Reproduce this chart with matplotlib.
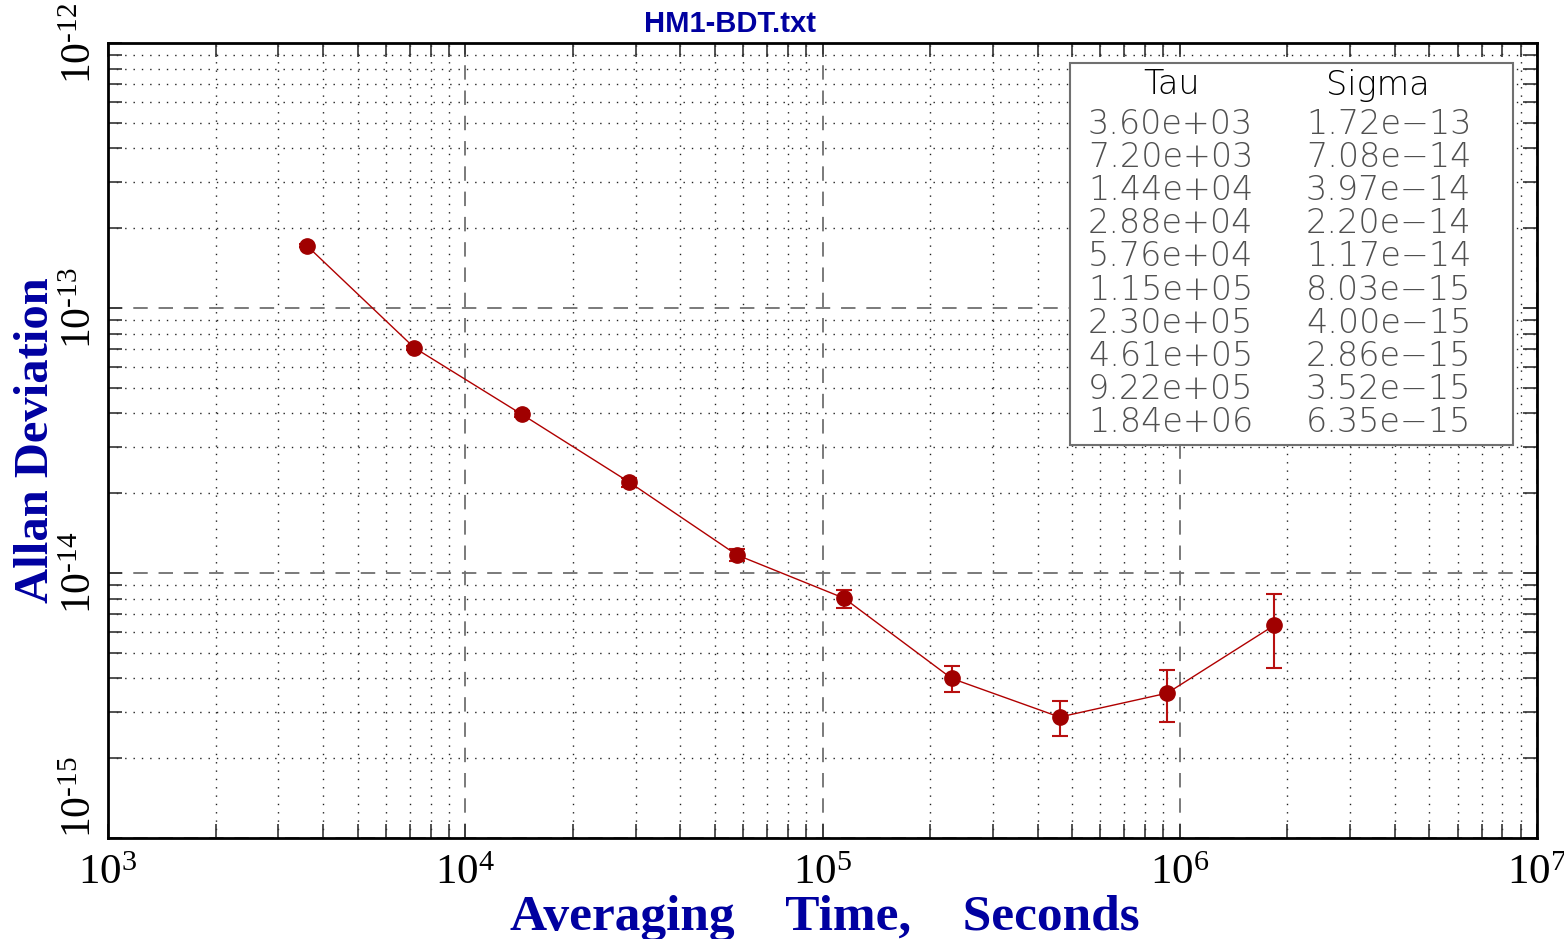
import matplotlib
matplotlib.use("Agg")
import matplotlib.pyplot as plt
from matplotlib.patches import Rectangle
from matplotlib.ticker import LogLocator, FixedLocator, NullFormatter

# ---- data ----
tau = [3.60e3, 7.20e3, 1.44e4, 2.88e4, 5.76e4, 1.15e5, 2.30e5, 4.61e5, 9.22e5, 1.84e6]
sigma = [1.72e-13, 7.08e-14, 3.97e-14, 2.20e-14, 1.17e-14, 8.03e-15, 4.00e-15, 2.86e-15, 3.52e-15, 6.35e-15]
sigma_err = [2.4e-15, 1.35e-15, 1.07e-15, 8.6e-16, 6.4e-16, 6.3e-16, 4.4e-16, 4.4e-16, 7.7e-16, 1.97e-15]
tau_labels = ["3.60e+03", "7.20e+03", "1.44e+04", "2.88e+04", "5.76e+04",
              "1.15e+05", "2.30e+05", "4.61e+05", "9.22e+05", "1.84e+06"]
sigma_labels = ["1.72e\u221213", "7.08e\u221214", "3.97e\u221214", "2.20e\u221214", "1.17e\u221214",
                "8.03e\u221215", "4.00e\u221215", "2.86e\u221215", "3.52e\u221215", "6.35e\u221215"]
x_ticks = [1e3, 1e4, 1e5, 1e6, 1e7]
x_tick_labels = [r"$10^{3}$", r"$10^{4}$", r"$10^{5}$", r"$10^{6}$", r"$10^{7}$"]
y_ticks = [1e-15, 1e-14, 1e-13, 1e-12]
y_tick_labels = [r"$10^{\text{-}15}$", r"$10^{\text{-}14}$", r"$10^{\text{-}13}$", r"$10^{\text{-}12}$"]
title = "HM1-BDT.txt"
xlabel = "Averaging    Time,    Seconds"
ylabel = "Allan Deviation"

plt.rcParams['mathtext.fontset'] = 'custom'
plt.rcParams['mathtext.rm'] = 'Liberation Serif'
plt.rcParams['mathtext.it'] = 'Liberation Serif:italic'
plt.rcParams['mathtext.bf'] = 'Liberation Serif:bold'
plt.rcParams['mathtext.default'] = 'rm'

W, H = 1564, 939
fig = plt.figure(figsize=(W / 100, H / 100), dpi=100)
L, R, T, B = 108, 1537, 43, 838
ax = fig.add_axes([L / W, 1 - B / H, (R - L) / W, (B - T) / H])

ax.set_xscale('log')
ax.set_yscale('log')
ax.set_xlim(1e3, 1e7)
ax.set_ylim(1e-15, 1e-12)

# grid
ax.xaxis.set_major_locator(FixedLocator(x_ticks))
ax.yaxis.set_major_locator(FixedLocator(y_ticks))
ax.xaxis.set_minor_locator(LogLocator(base=10, subs=range(2, 10), numticks=20))
ax.yaxis.set_minor_locator(LogLocator(base=10, subs=range(2, 10), numticks=20))
ax.xaxis.set_minor_formatter(NullFormatter())
ax.yaxis.set_minor_formatter(NullFormatter())
ax.grid(True, which='major', color='#707070', linestyle=(0, (8, 6)), linewidth=1.3)
ax.grid(True, which='minor', color='#222222', linestyle=(0, (1, 5)), linewidth=1.0)
ax.set_axisbelow(True)

ax.set_xticklabels(x_tick_labels, fontsize=31, family='Liberation Serif')
ax.set_yticklabels(y_tick_labels, fontsize=30, rotation=90, va='center', family='Liberation Serif')
ax.get_yticklabels()[0].set_va('bottom')
ax.tick_params(which='both', direction='in', top=True, right=True, length=10,
               width=1.2, color='#333333')
ax.tick_params(axis='x', which='major', pad=12)
ax.tick_params(axis='y', which='major', pad=6)

for s in ax.spines.values():
    s.set_linewidth(2)
    s.set_color('black')

# data
ax.errorbar(tau, sigma, yerr=sigma_err, fmt='none', ecolor='#b81010', elinewidth=1.5,
            capsize=6, capthick=1.5, zorder=3)
ax.plot(tau, sigma, color='#b00000', linewidth=1.0, zorder=4)
ax.plot(tau, sigma, linestyle='none', marker='o', markersize=11, markerfacecolor='#a00000',
        markeredgecolor='#a00000', zorder=5)

# table box
def ax_xy(px, py):
    return ((px - L) / (R - L), (B - py) / (B - T))

bx0, by0 = ax_xy(1070, 445)
bx1, by1 = ax_xy(1513, 63)
ax.add_patch(Rectangle((bx0, by0), bx1 - bx0, by1 - by0, transform=ax.transAxes,
                       facecolor='white', edgecolor='#707070', linewidth=1.5, zorder=6))
tf = dict(fontsize=24, family=['DejaVu Sans'], fontweight='light', transform=ax.transAxes, zorder=7)
ax.text(*ax_xy(1172, 85), "Tau", ha='center', va='center', color='black', **tf)
ax.text(*ax_xy(1378, 85), "Sigma", ha='center', va='center', color='black', **tf)
for i in range(len(tau_labels)):
    yy = 124 + i * 33.2
    ax.text(*ax_xy(1088, yy), tau_labels[i], ha='left', va='center', color='#505050', **tf)
    ax.text(*ax_xy(1306, yy), sigma_labels[i], ha='left', va='center', color='#505050', **tf)

# labels
fig.text(730 / W, 1 - 32 / H, title, ha='center', va='baseline', fontsize=21,
         fontweight='bold', family='Liberation Sans', color='#0000a0')
fig.text(825 / W, 1 - 930 / H, xlabel, ha='center', va='baseline', fontsize=37,
         fontweight='bold', family='Liberation Serif', color='#0000a0')
fig.text(36 / W, 1 - 440 / H, ylabel, ha='center', va='center', rotation=90, fontsize=35,
         fontweight='bold', family='Liberation Serif', color='#0000a0')

fig.savefig("out.png", dpi=100)
